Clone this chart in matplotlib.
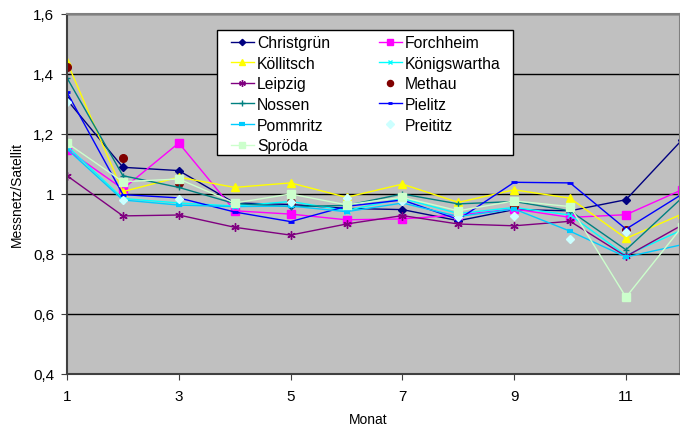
import numpy as np
import matplotlib
matplotlib.use("Agg")
import matplotlib.pyplot as plt
from matplotlib.ticker import FuncFormatter
from matplotlib.patches import Rectangle

plt.rcParams['font.family'] = ['Liberation Sans', 'DejaVu Sans']

months = list(range(1, 13))
christgruen = [1.314, 1.089, 1.078, 0.970, 0.965, 0.952, 0.948, 0.911, 0.948, 0.944, 0.981, 1.180]
forchheim = [1.148, 1.017, 1.170, 0.944, 0.933, 0.914, 0.917, 0.930, 0.950, 0.922, 0.931, 1.014]
koellitsch = [1.440, 1.008, 1.056, 1.022, 1.037, 0.989, 1.033, 0.972, 1.014, 0.986, 0.852, 0.933]
koenigswartha = [1.160, 0.985, 0.970, 0.960, 0.975, 0.945, 0.985, 0.935, 0.955, 0.930, 0.795, 0.880]
leipzig = [1.061, 0.927, 0.930, 0.889, 0.863, 0.900, 0.928, 0.900, 0.894, 0.909, 0.792, 0.896]
methau = [1.422, 1.120, 1.037, 0.970, 0.973, 0.964, 0.989, 0.930, 0.959, 0.958, 0.881, np.nan]
nossen = [1.387, 1.061, 1.022, 0.968, 0.958, 0.962, 1.000, 0.967, 0.975, 0.944, 0.814, 0.987]
pielitz = [1.339, 0.998, 0.987, 0.940, 0.908, 0.959, 0.980, 0.915, 1.039, 1.037, 0.883, 0.999]
pommritz = [1.150, 0.980, 0.963, 0.958, 0.960, 0.941, 0.970, 0.925, 0.950, 0.876, 0.790, 0.831]
preititz = [1.306, 0.981, 0.985, 0.970, 0.975, 0.988, 0.977, 0.922, 0.927, 0.850, 0.874, np.nan]
sproeda = [1.170, 1.041, 1.050, 0.970, 1.000, 0.964, 0.989, 0.944, 0.977, 0.958, 0.656, 0.890]

series = [
    ("Christgrün", christgruen, dict(color="#000080", marker="D", ms=4, ls="-")),
    ("Forchheim", forchheim, dict(color="#FF00FF", marker="s", ms=5.5, ls="-")),
    ("Köllitsch", koellitsch, dict(color="#FFFF00", marker="^", ms=6, ls="-")),
    ("Königswartha", koenigswartha, dict(color="#00FFFF", marker="x", ms=4, mew=1, ls="-")),
    ("Leipzig", leipzig, dict(color="#800080", marker=(6, 2, 0), ms=6, mew=1, ls="-")),
    ("Methau", methau, dict(color="#800000", marker="o", ms=5.5, ls="none")),
    ("Nossen", nossen, dict(color="#008080", marker="+", ms=5, mew=1, ls="-")),
    ("Pielitz", pielitz, dict(color="#0000FF", marker="_", ms=4, mew=2, ls="-")),
    ("Pommritz", pommritz, dict(color="#00CCFF", marker="_", ms=5, mew=3, ls="-")),
    ("Preititz", preititz, dict(color="#CCFFFF", marker="D", ms=4.5, ls="none")),
    ("Spröda", sproeda, dict(color="#CCFFCC", marker="s", ms=6, ls="-")),
]

W, H = 680, 427
fig = plt.figure(figsize=(6.8, 4.27), dpi=100)
ax = fig.add_axes([67/W, 1-375/H, 1-67/W, 360/H])
ax.set_facecolor("#C0C0C0")

handles = []
for name, vals, st in series:
    h, = ax.plot(months, vals, lw=1.0, label=name, **st)
    handles.append(h)

ax.set_xlim(1, 11.966)
ax.set_ylim(0.4, 1.6)
ax.set_xticks([1, 3, 5, 7, 9, 11])
ax.set_yticks([0.4, 0.6, 0.8, 1.0, 1.2, 1.4, 1.6])
ax.yaxis.set_major_formatter(FuncFormatter(lambda v, p: ("%g" % round(v, 1)).replace(".", ",")))
ax.grid(axis="y", color="black", lw=1)
ax.set_axisbelow(True)
ax.tick_params(axis="both", direction="out", length=4, color="#404040", labelsize=11)
ax.tick_params(axis="y", pad=5)
ax.tick_params(axis="x", pad=7)
for s in ["top", "right"]:
    ax.spines[s].set_color("#808080")
    ax.spines[s].set_linewidth(1.5)
for s in ["left", "bottom"]:
    ax.spines[s].set_color("#404040")
    ax.spines[s].set_linewidth(1.5)

ax.set_ylabel("Messnetz/Satellit", fontsize=10, labelpad=7)
fig.text(368/W, 1-420/H, "Monat", fontsize=10, ha="center", va="center")

# legend box
ax_w, ax_h = W - 67, 360
def axx(px):
    return (px - 67) / ax_w
def axy(py):
    return (375 - py) / ax_h
rect = Rectangle((axx(217), axy(156)), axx(513) - axx(217), axy(31) - axy(156),
                 transform=ax.transAxes, facecolor="white", edgecolor="black",
                 lw=1.0, zorder=4.5, clip_on=False)
ax.add_patch(rect)

order = [0, 2, 4, 6, 8, 10, 1, 3, 5, 7, 9]
leg = ax.legend([handles[i] for i in order], [series[i][0] for i in order],
                ncol=2, loc="upper left", bbox_to_anchor=(axx(231), axy(36)),
                borderaxespad=0, borderpad=0, frameon=False, fontsize=11.3,
                handlelength=1.45, handletextpad=0.22, columnspacing=3.1,
                labelspacing=0.36, markerscale=0.8)
leg.set_zorder(5)

fig.savefig("out.png", dpi=100)
